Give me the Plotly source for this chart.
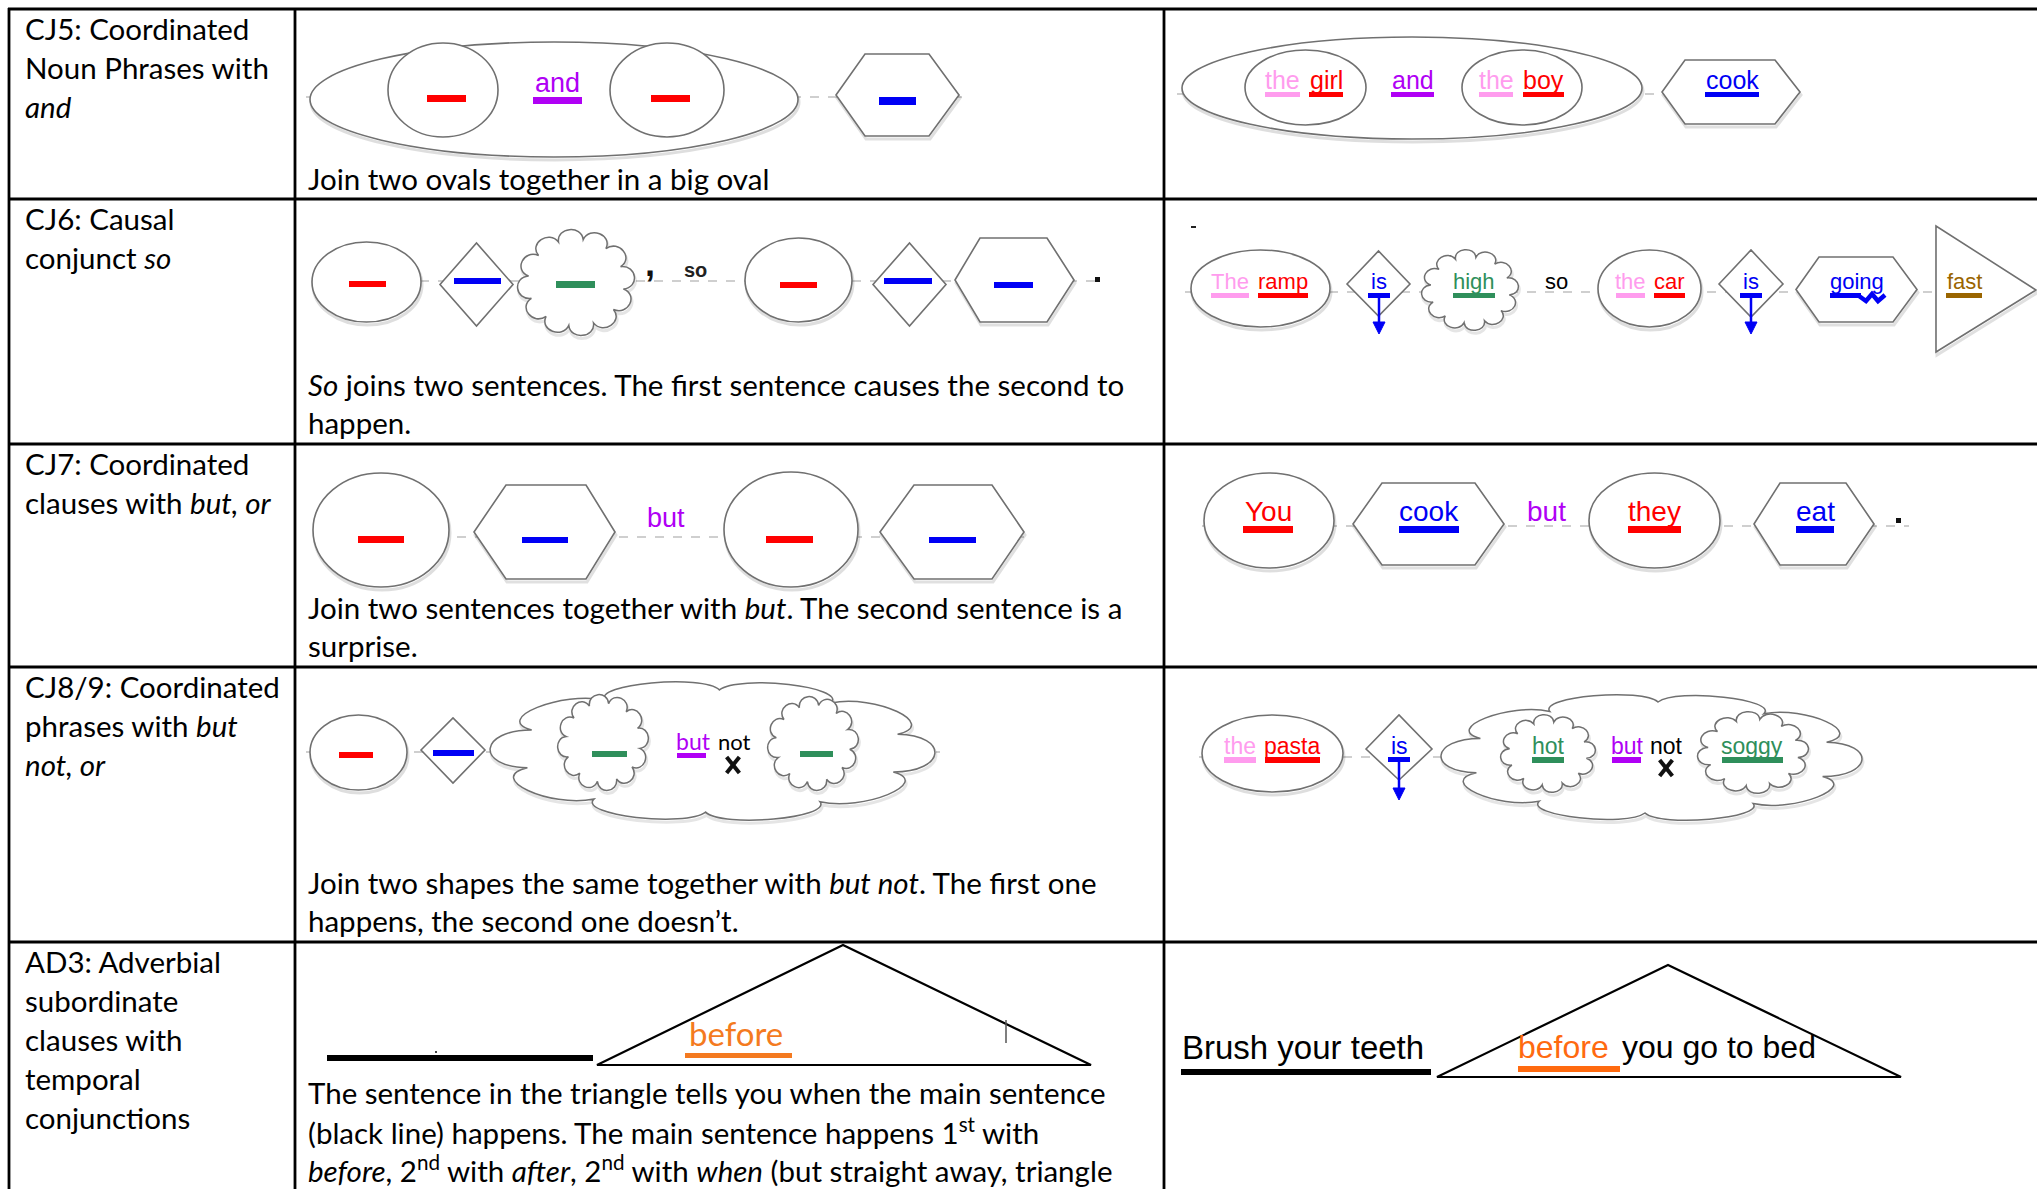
import math
import plotly.graph_objects as go

W, H = 2037, 1189

# ---------------- text content ----------------
row_labels = [
    ["CJ5: Coordinated", "Noun Phrases with", "<i>and</i>"],
    ["CJ6: Causal", "conjunct <i>so</i>"],
    ["CJ7: Coordinated", "clauses with <i>but, or</i>"],
    ["CJ8/9: Coordinated", "phrases with <i>but</i>", "<i>not, or</i>"],
    ["AD3: Adverbial", "subordinate", "clauses with", "temporal", "conjunctions"],
]
descriptions = [
    ["Join two ovals together in a big oval"],
    ["<i>So</i> joins two sentences. The first sentence causes the second to", "happen."],
    ["Join two sentences together with <i>but</i>. The second sentence is a", "surprise."],
    ["Join two shapes the same together with <i>but not</i>. The first one",
     "happens, the second one doesn\u2019t."],
    ["The sentence in the triangle tells you when the main sentence",
     "(black line) happens. The main sentence happens 1<sup>st</sup> with",
     "<i>before</i>, 2<sup>nd</sup> with <i>after</i>, 2<sup>nd</sup> with <i>when</i> (but straight away, triangle"],
]
# example sentences: (word, colour key)
ex_cj5 = [("the", "pink"), ("girl", "red"), ("and", "purple"), ("the", "pink"), ("boy", "red"), ("cook", "blue")]
ex_cj6 = [("The", "pink"), ("ramp", "red"), ("is", "blue"), ("high", "green"), ("so", "black"),
          ("the", "pink"), ("car", "red"), ("is", "blue"), ("going", "blue"), ("fast", "brown")]
ex_cj7 = [("You", "red"), ("cook", "blue"), ("but", "purple"), ("they", "red"), ("eat", "blue")]
ex_cj8 = [("the", "pink"), ("pasta", "red"), ("is", "blue"), ("hot", "green"), ("but", "purple"),
          ("not", "black"), ("soggy", "green")]
ex_ad3 = [("Brush your teeth", "black"), ("before", "orange2"), ("you go to bed", "black")]
template_words = {"cj5": "and", "cj6": "so", "cj7": "but", "cj8a": "but", "cj8b": "not", "ad3": "before"}

COL = dict(red="#ff0000", blue="#0000f5", pink="#ff9cee", purple="#b000f5", green="#2f8f5b",
           brown="#9a6500", black="#000000", orange="#f47a20", orange2="#ff6a10")

# ---------------- geometry ----------------
ROW_Y = [9, 199, 444, 667, 942]
COL_X = [9, 295, 1164]

LABEL_FONT = "Lato, 'Open Sans', sans-serif"
ARIAL = "'Liberation Sans', Arial, sans-serif"
OUT = "#707070"
DASH = "#cfcfcf"
BODY = 29.5

shapes = []
annotations = []


def add_shape(**kw):
    kw.setdefault("xref", "x")
    kw.setdefault("yref", "y")
    shapes.append(kw)


def text(x, y, s, color="#000", size=26, family=LABEL_FONT, xanchor="left"):
    annotations.append(dict(x=x, y=y, xref="x", yref="y", text=s, showarrow=False,
                            xanchor=xanchor, yanchor="middle", borderpad=0,
                            font=dict(color=color, size=size, family=family)))


def oval(x0, x1, y0, y1, shadow=True):
    if shadow:
        add_shape(type="circle", x0=x0 + 1, x1=x1 + 1, y0=y0 + 3, y1=y1 + 3,
                  line=dict(color="rgba(0,0,0,0.13)", width=3))
    add_shape(type="circle", x0=x0, x1=x1, y0=y0, y1=y1, fillcolor="white",
              line=dict(color=OUT, width=1.6))


def poly(pts, line=OUT, width=1.6, fill="white", shadow=False):
    d = "M " + " L ".join(f"{x:.1f},{y:.1f}" for x, y in pts) + " Z"
    if shadow:
        d2 = "M " + " L ".join(f"{x + 1:.1f},{y + 3:.1f}" for x, y in pts) + " Z"
        add_shape(type="path", path=d2, line=dict(color="rgba(0,0,0,0.12)", width=3))
    add_shape(type="path", path=d, fillcolor=fill, line=dict(color=line, width=width))


def hexagon(x0, x1, tx0, tx1, y0, y1):
    ym = (y0 + y1) / 2
    poly([(x0, ym), (tx0, y0), (tx1, y0), (x1, ym), (tx1, y1), (tx0, y1)], shadow=True)


def diamond(x0, x1, y0, y1, ym=None):
    ym = (y0 + y1) / 2 if ym is None else ym
    cx = (x0 + x1) / 2
    poly([(x0, ym), (cx, y0), (x1, ym), (cx, y1)])


def cloud(x0, x1, y0, y1, n=11, k=0.32, phase=0.15, shadow=True):
    cx, cy = (x0 + x1) / 2, (y0 + y1) / 2
    f = 1 + 0.62 * k
    rx, ry = (x1 - x0) / 2 / f, (y1 - y0) / 2 / f
    d_ang = 2 * math.pi / n

    def P(t, r=1.0, off=(0, 0)):
        return (cx + r * rx * math.cos(t) + off[0], cy + r * ry * math.sin(t) + off[1])

    def path(off):
        p0 = P(phase, 1, off)
        d = f"M {p0[0]:.1f},{p0[1]:.1f}"
        for i in range(n):
            t0 = phase + i * d_ang
            c1 = P(t0 + 0.12 * d_ang, 1 + k, off)
            c2 = P(t0 + 0.88 * d_ang, 1 + k, off)
            p3 = P(t0 + d_ang, 1, off)
            d += f" C {c1[0]:.1f},{c1[1]:.1f} {c2[0]:.1f},{c2[1]:.1f} {p3[0]:.1f},{p3[1]:.1f}"
        return d + " Z"

    if shadow:
        add_shape(type="path", path=path((1, 3)), line=dict(color="rgba(0,0,0,0.10)", width=3))
    add_shape(type="path", path=path((0, 0)), fillcolor="white", line=dict(color=OUT, width=1.5))


def bar(x0, x1, y0, y1, color):
    add_shape(type="rect", x0=x0, x1=x1, y0=y0, y1=y1, fillcolor=color, line=dict(width=0))


def dashline(x0, x1, y):
    add_shape(type="line", x0=x0, x1=x1, y0=y, y1=y, line=dict(color=DASH, width=2.2, dash="dash"))


def word(tok, cx, cy, size, bar_y=None, bar_span=None, family=ARIAL):
    w, ck = tok
    text(cx, cy, w, COL[ck], size, family, xanchor="center")
    if bar_y is not None:
        bx0, bx1 = bar_span
        bar(bx0, bx1, bar_y[0], bar_y[1], COL[ck])


def tarrow(cx, ytop, ybot, color=COL["blue"]):
    bar(cx - 11, cx + 11, ytop, ytop + 5, color)
    add_shape(type="line", x0=cx, x1=cx, y0=ytop + 5, y1=ybot - 10, line=dict(color=color, width=2.5))
    poly([(cx - 6, ybot - 12), (cx + 6, ybot - 12), (cx, ybot)], line=color, width=1, fill=color)


def xmark(cx, cy, h):
    for s in (1, -1):
        add_shape(type="line", x0=cx - h * 0.8, x1=cx + h * 0.8, y0=cy - s * h, y1=cy + s * h,
                  line=dict(color="#111", width=4))


# ---------------- table grid ----------------
for y in ROW_Y:
    add_shape(type="line", x0=COL_X[0] - 1, x1=W + 5, y0=y, y1=y, line=dict(color="black", width=2.8))
for x in COL_X:
    add_shape(type="line", x0=x, x1=x, y0=ROW_Y[0] - 1, y1=H + 5, line=dict(color="black", width=2.8))

# left labels and descriptions
for r, lines in enumerate(row_labels):
    for i, s in enumerate(lines):
        text(24, ROW_Y[r] + 19 + 39 * i, s, size=BODY)
DESC_Y = [[178], [384, 422], [607, 645], [882, 920], [1092, 1131, 1169]]
for r, lines in enumerate(descriptions):
    for i, s in enumerate(lines):
        text(307, DESC_Y[r][i], s, size=BODY)

# ================= ROW 1 : CJ5 =================
dashline(306, 962, 97)
oval(310, 798, 42, 157)
oval(388, 498, 43, 137, shadow=False)
oval(610, 724, 43, 137, shadow=False)
bar(427, 466, 95, 102, COL["red"])
bar(651, 690, 95, 102, COL["red"])
text(557, 83, template_words["cj5"], COL["purple"], 27, ARIAL, xanchor="center")
bar(533, 582, 97, 104, COL["purple"])
hexagon(836, 959, 865, 929, 54, 136)
bar(879, 916, 97, 105, COL["blue"])

dashline(1177, 1803, 94)
oval(1182, 1642, 37, 139)
oval(1245, 1366, 50, 125, shadow=False)
oval(1462, 1582, 50, 125, shadow=False)
hexagon(1662, 1800, 1685, 1775, 60, 124)
r1_pos = [(1265, 1300), (1309, 1343), (1391, 1434), (1479, 1513), (1523, 1564), (1705, 1759)]
for tok, (a, b) in zip(ex_cj5, r1_pos):
    word(tok, (a + b) / 2, 80, 25, (92, 97), (a, b))

# ================= ROW 2 : CJ6 =================
dashline(312, 1104, 281)
oval(312, 421, 242, 322)
bar(349, 386, 281, 287, COL["red"])
diamond(440, 513, 243, 326)
bar(454, 501, 278, 284, COL["blue"])
cloud(518, 634, 230, 335, n=12, k=0.34)
bar(556, 595, 281, 288, COL["green"])
text(650, 263, "<b>,</b>", "#111", 36, ARIAL, xanchor="center")
text(695, 270, "<b>" + template_words["cj6"] + "</b>", "#222", 20, ARIAL, xanchor="center")
oval(745, 852, 238, 322)
bar(780, 817, 282, 288, COL["red"])
diamond(873, 946, 243, 326)
bar(884, 932, 278, 284, COL["blue"])
hexagon(955, 1074, 980, 1047, 238, 322)
bar(994, 1033, 282, 288, COL["blue"])
bar(1095, 1100, 277, 282, "#111")

dashline(1185, 1937, 292)
bar(1191, 1196, 226, 228, "#222")
oval(1191, 1330, 250, 327)
diamond(1347, 1410, 251, 316, 284)
cloud(1422, 1518, 250, 330, n=12, k=0.34)
oval(1598, 1701, 250, 327)
diamond(1719, 1783, 250, 317, 284)
hexagon(1796, 1917, 1819, 1893, 257, 322)
poly([(1936, 226), (1936, 352), (2036, 290)], shadow=True)
r2_pos = [(1211, 1249), (1258, 1308), None, (1453, 1495), None, (1616, 1645), (1654, 1685), None, None, (1946, 1982)]
r2_cx = [1230, 1283, 1379, 1474, 1556, 1630, 1669, 1751, 1857, 1964]
for tok, span, cx in zip(ex_cj6, r2_pos, r2_cx):
    if span is None:
        word(tok, cx, 281, 22)
    else:
        word(tok, cx, 281, 22, (293, 298), span)
tarrow(1379, 293, 334)
tarrow(1751, 293, 334)
bar(1830, 1861, 293, 298, COL["blue"])
add_shape(type="path", path="M 1859,296 L 1866,301 L 1872,294 L 1878,301 L 1885,295",
          line=dict(color=COL["blue"], width=4.5))

# ================= ROW 3 : CJ7 =================
dashline(313, 1028, 537)
oval(313, 449, 473, 587)
bar(358, 404, 536, 543, COL["red"])
hexagon(474, 615, 506, 586, 485, 579)
bar(522, 568, 537, 543, COL["blue"])
text(666, 518, template_words["cj7"], COL["purple"], 27, ARIAL, xanchor="center")
oval(724, 858, 472, 587)
bar(766, 813, 536, 543, COL["red"])
hexagon(880, 1024, 914, 992, 485, 579)
bar(929, 976, 537, 543, COL["blue"])

dashline(1202, 1909, 526)
oval(1204, 1334, 473, 568)
hexagon(1353, 1504, 1382, 1475, 483, 565)
oval(1589, 1720, 473, 568)
hexagon(1754, 1874, 1780, 1846, 483, 565)
r3_pos = [(1243, 1293), (1399, 1459), None, (1628, 1681), (1796, 1834)]
r3_cx = [1268, 1429, 1546, 1654, 1815]
for tok, span, cx in zip(ex_cj7, r3_pos, r3_cx):
    if span is None:
        word(tok, cx, 511, 28)
    else:
        word(tok, cx, 511, 28, (526, 533), span)
bar(1896, 1901, 518, 523, "#111")

# ================= ROW 4 : CJ8/9 =================
dashline(306, 940, 752)
oval(310, 407, 715, 790)
bar(339, 373, 752, 758, COL["red"])
diamond(421, 485, 718, 783, 750)
bar(433, 474, 750, 756, COL["blue"])
cloud(489, 936, 680, 822, n=10, k=0.26, phase=0.35)
cloud(558, 648, 695, 790, n=12, k=0.34)
bar(592, 627, 751, 757, COL["green"])
cloud(768, 858, 697, 790, n=12, k=0.34)
bar(800, 833, 751, 757, COL["green"])
text(693, 741, template_words["cj8a"], COL["purple"], 23, LABEL_FONT, xanchor="center")
text(734, 741, template_words["cj8b"], "#000", 22, LABEL_FONT, xanchor="center")
bar(677, 706, 753, 758, COL["purple"])
xmark(733, 765, 8)

dashline(1199, 1445, 757)
oval(1202, 1343, 715, 792)
diamond(1366, 1432, 715, 780, 749)
cloud(1440, 1863, 693, 822, n=10, k=0.26, phase=0.35)
cloud(1501, 1595, 715, 792, n=12, k=0.34)
cloud(1698, 1808, 712, 793, n=12, k=0.34)
r4_pos = [(1224, 1256), (1265, 1320), None, (1532, 1564), (1612, 1641), None, (1722, 1783)]
r4_cx = [1240, 1292, 1399, 1548, 1627, 1666, 1752]
for tok, span, cx in zip(ex_cj8, r4_pos, r4_cx):
    if span is None:
        word(tok, cx, 746, 23)
    else:
        word(tok, cx, 746, 23, (757, 763), span)
tarrow(1399, 757, 800)
xmark(1666, 768, 8)

# ================= ROW 5 : AD3 =================
poly([(843, 945), (597, 1065), (1091, 1065)], line="#000", width=2.2, fill="rgba(0,0,0,0)")
bar(327, 593, 1055, 1061, "#000")
bar(435, 437, 1051, 1053, "#444")
text(736, 1033, template_words["ad3"], COL["orange"], 33, LABEL_FONT, xanchor="center")
bar(685, 792, 1053, 1058, COL["orange"])
add_shape(type="line", x0=1006, x1=1006, y0=1020, y1=1043, line=dict(color="#555", width=1.5))

poly([(1668, 965), (1437, 1077), (1901, 1077)], line="#000", width=2.2, fill="rgba(0,0,0,0)")
text(1181, 1047, ex_ad3[0][0], COL[ex_ad3[0][1]], 33, ARIAL)
bar(1181, 1431, 1069, 1075, "#000")
text(1517, 1047, ex_ad3[1][0], COL[ex_ad3[1][1]], 32, ARIAL)
bar(1518, 1620, 1066, 1072, COL["orange2"])
text(1621, 1047, ex_ad3[2][0], COL[ex_ad3[2][1]], 32, ARIAL)

# ---------------- figure ----------------
fig = go.Figure()
fig.update_layout(
    width=W, height=H, margin=dict(l=0, r=0, t=0, b=0),
    paper_bgcolor="white", plot_bgcolor="white",
    xaxis=dict(range=[0, W], visible=False, fixedrange=True),
    yaxis=dict(range=[H, 0], visible=False, fixedrange=True),
    shapes=shapes, annotations=annotations, showlegend=False,
)
fig.write_html("out.html", config={"displayModeBar": False, "staticPlot": True},
               post_script="document.body.style.margin='0';document.body.style.overflow='hidden';")
